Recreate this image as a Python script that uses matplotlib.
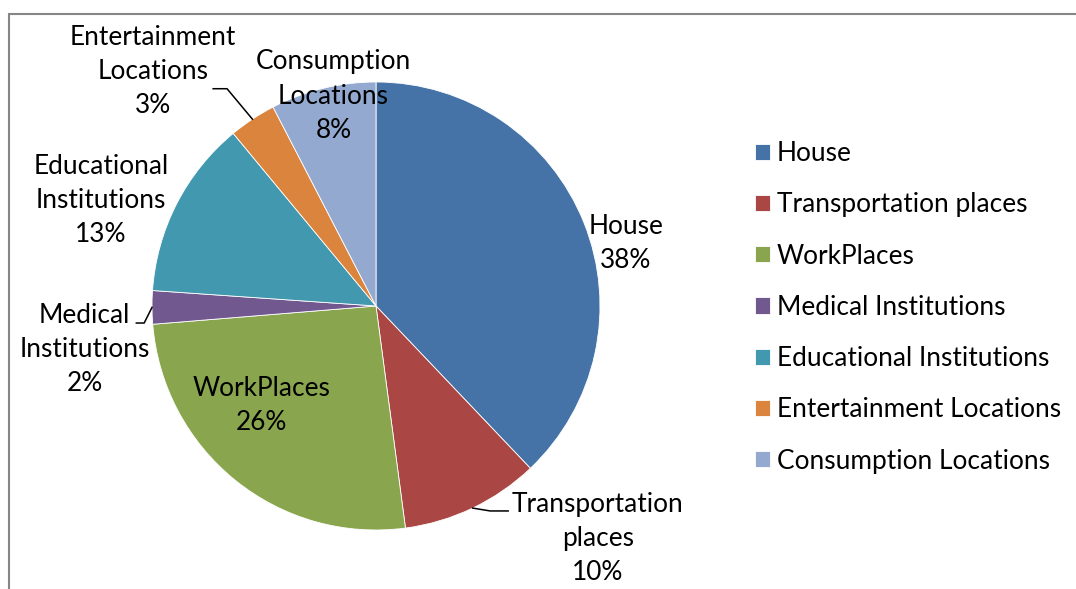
import matplotlib.pyplot as plt
import numpy as np
from matplotlib.patches import Rectangle

# Data (percent of total)
categories = ["House", "Transportation places", "WorkPlaces", "Medical Institutions",
              "Educational Institutions", "Entertainment Locations", "Consumption Locations"]
shares = [37.9, 10.0, 25.8, 2.4, 12.9, 3.4, 7.6]
colors = ["#4572A7", "#AA4643", "#89A54E", "#71588F", "#4198AF", "#DB843D", "#93A9CF"]

# label text (as wrapped on the chart) and where it sits, in pie radius units
label_names = ["House", "Transportation\nplaces", "WorkPlaces", "Medical\nInstitutions",
               "Educational\nInstitutions", "Entertainment\nLocations", "Consumption\nLocations"]
label_pos = [(1.115, 0.28), (0.99, -1.04), (-0.51, -0.446), (-1.30, -0.196),
             (-1.228, 0.469), (-0.996, 1.045), (-0.19, 0.9375)]
# leader lines: (elbow, end) for labels placed outside with a connector
leaders = {1: [(0.51, -0.915), (0.59, -0.915)],
           3: [(-1.035, -0.076), (-1.07, -0.076)],
           5: [(-0.665, 0.97), (-0.727, 0.97)]}

plt.rcParams['font.family'] = ['Lato', 'DejaVu Sans']
FS = 18.9

W, H = 1076, 589
fig = plt.figure(figsize=(W / 100, H / 100), dpi=100)

# chart border (runs off the right and bottom of the picture)
fig.patches.append(Rectangle((9 / W, -0.1), 1.2, 1 - 14 / H + 0.1, transform=fig.transFigure,
                             fill=False, edgecolor="#868686", linewidth=1.5))

cx, cy, r = 376, 306, 224
ax = fig.add_axes([(cx - r) / W, (H - cy - r) / H, 2 * r / W, 2 * r / H])
wedges, _ = ax.pie(shares, colors=colors, startangle=90, counterclock=False, radius=1,
                   wedgeprops=dict(edgecolor="white", linewidth=0.6))
ax.set_xlim(-1, 1)
ax.set_ylim(-1, 1)
ax.set_aspect("equal")
ax.axis("off")

for i, (w, name, (lx, ly)) in enumerate(zip(wedges, label_names, label_pos)):
    ax.text(lx, ly, f"{name}\n{shares[i]:.0f}%", ha="center", va="center",
            fontsize=FS, linespacing=1.45, clip_on=False)
    if i in leaders:
        mid = np.deg2rad((w.theta1 + w.theta2) / 2)
        pts = [(np.cos(mid), np.sin(mid))] + leaders[i]
        xs, ys = zip(*pts)
        ax.plot(xs, ys, color="black", linewidth=1.1, clip_on=False)

fig.legend(wedges, categories, loc="upper left", bbox_to_anchor=(755 / W, 1 - 141 / H),
           frameon=False, fontsize=FS, handlelength=0.58, handleheight=0.58,
           handletextpad=0.25, labelspacing=1.0, borderpad=0, borderaxespad=0)

fig.savefig("out.png", dpi=100)
